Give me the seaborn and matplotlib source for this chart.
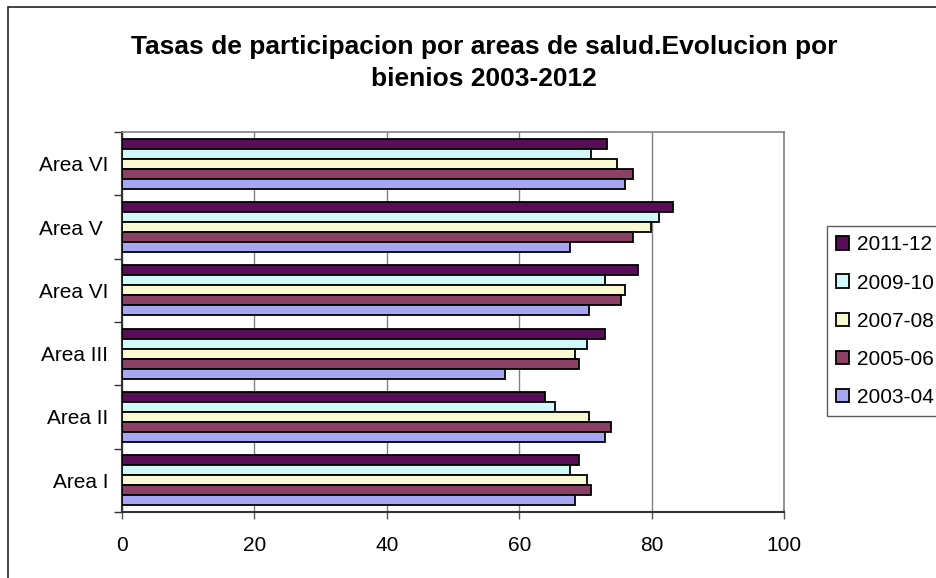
import matplotlib
matplotlib.use("Agg")
import matplotlib.pyplot as plt
import seaborn as sns
import pandas as pd
from matplotlib.patches import Rectangle

# ---- data ----
area_keys = ["Area VI (a)", "Area V", "Area VI (b)", "Area III", "Area II", "Area I"]  # top to bottom
area_labels = ["Area VI", "Area V ", "Area VI", "Area III", "Area II", "Area I"]
periods = ["2011-12", "2009-10", "2007-08", "2005-06", "2003-04"]
v_2011_12 = [73.2, 83.2, 77.9, 73.0, 63.9, 69.1]
v_2009_10 = [70.8, 81.1, 72.9, 70.2, 65.4, 67.6]
v_2007_08 = [74.7, 79.9, 76.0, 68.4, 70.5, 70.2]
v_2005_06 = [77.2, 77.2, 75.4, 69.1, 73.9, 70.9]
v_2003_04 = [76.0, 67.6, 70.5, 57.9, 73.0, 68.4]
colors = ["#660066", "#CCFFFF", "#FFFFCC", "#993366", "#9999FF"]
title = "Tasas de participacion por areas de salud.Evolucion por\nbienios 2003-2012"
xticks = [0, 20, 40, 60, 80, 100]

series = [v_2011_12, v_2009_10, v_2007_08, v_2005_06, v_2003_04]
rows = []
for p, vals in zip(periods, series):
    for a, v in zip(area_keys, vals):
        rows.append({"area": a, "period": p, "value": v})
df = pd.DataFrame(rows)

sns.set_style("white")
plt.rcParams["font.family"] = ["Liberation Sans", "DejaVu Sans"]
plt.rcParams["text.color"] = "black"
plt.rcParams["xtick.color"] = "black"
plt.rcParams["ytick.color"] = "black"

W, H = 937, 578
fig = plt.figure(figsize=(W / 100, H / 100), dpi=100)
ax = fig.add_axes([122 / W, 1 - 512 / H, (784 - 122) / W, (512 - 132) / H])

sns.barplot(data=df, x="value", y="area", hue="period", order=area_keys,
            hue_order=periods, palette=dict(zip(periods, colors)),
            errorbar=None, width=0.79, edgecolor="black", linewidth=1.3,
            orient="h", ax=ax, legend=True, zorder=3)

ax.set_xlim(0, 100)
ax.set_ylim(5.5, -0.5)
ax.set_xticks(xticks)
ax.set_xticklabels([str(t) for t in xticks], fontsize=15, color="black")
ax.set_yticks(range(len(area_keys)))
ax.set_yticklabels(area_labels, fontsize=15, color="black")
ax.set_yticks([i - 0.5 for i in range(len(area_keys) + 1)], minor=True)
ax.tick_params(axis="y", which="major", length=0, pad=10)
ax.tick_params(axis="y", which="minor", length=6, width=1, color="#333333", left=True)
ax.tick_params(axis="x", which="major", length=5, width=1, color="#555555", pad=12, bottom=True)
ax.set_xlabel("")
ax.set_ylabel("")

ax.grid(axis="x", color="#808080", linewidth=1, zorder=0)
ax.set_axisbelow(True)
for s in ["top", "right"]:
    ax.spines[s].set_color("#808080")
    ax.spines[s].set_linewidth(1.2)
for s in ["left", "bottom"]:
    ax.spines[s].set_color("#333333")
    ax.spines[s].set_linewidth(1.5)

leg = ax.get_legend()
handles = leg.legend_handles
labels = [t.get_text() for t in leg.get_texts()]
leg.remove()
leg = fig.legend(handles, labels, loc="upper left",
                 bbox_to_anchor=(827 / W, 1 - 226 / H),
                 bbox_transform=fig.transFigure, fontsize=15,
                 frameon=True, fancybox=False, edgecolor="#333333",
                 handlelength=0.62, handleheight=0.62, handletextpad=0.35,
                 labelspacing=0.92, borderpad=0.45, borderaxespad=0)
leg.get_frame().set_linewidth(1.0)
for t in leg.get_texts():
    t.set_color("black")
for h in leg.legend_handles:
    h.set_edgecolor("black")
    h.set_linewidth(1.3)

fig.text(484 / W, 1 - 63 / H, title, ha="center", va="center",
         fontsize=19, fontweight="bold", linespacing=1.42, color="black")

fig.patches.append(Rectangle((8 / W, -0.1), 1.2, 1 - 7 / H + 0.1,
                             transform=fig.transFigure, fill=False,
                             edgecolor="#222222", linewidth=1.2))

fig.savefig("out.png", dpi=100)
